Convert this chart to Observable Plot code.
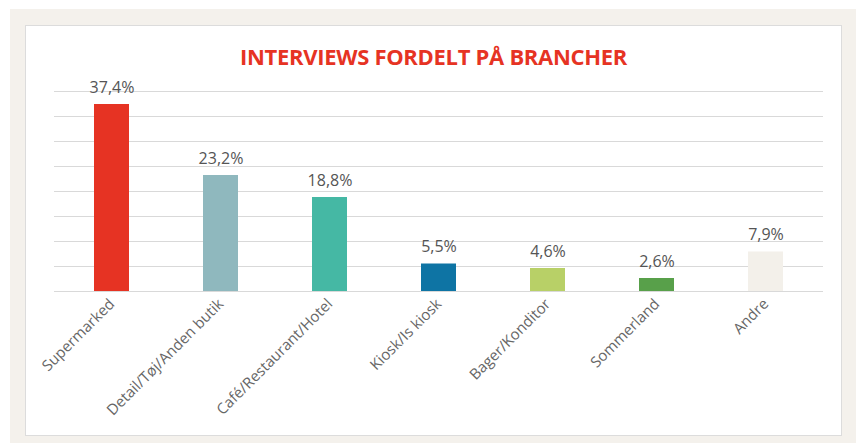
<!DOCTYPE html>
<html>
<head>
<meta charset="utf-8">
<script src="https://cdn.jsdelivr.net/npm/d3@7"></script>
<script src="https://cdn.jsdelivr.net/npm/@observablehq/plot@0.6"></script>
<style>
  html, body { margin: 0; padding: 0; background: #ffffff; width: 860px; height: 443px; overflow: hidden; }
  #outer { position: absolute; left: 10px; top: 9px; width: 846px; height: 434px; background: #f4f1ec; }
  #panel { position: absolute; left: 25px; top: 25px; width: 815px; height: 409px; background: #ffffff; border: 1.5px solid #dcdcdc; }
  #title { position: absolute; left: 25px; width: 817px; top: 41px; text-align: center; font-family: "Open Sans", sans-serif; font-weight: 700; font-size: 22px; color: #e63323; letter-spacing: -0.3px; }
  #chart { position: absolute; left: 0; top: 0; }
</style>
</head>
<body>
<div id="outer"></div>
<div id="panel"></div>
<div id="title">INTERVIEWS FORDELT PÅ BRANCHER</div>
<div id="chart"></div>
<script>
const categories = ["Supermarked", "Detail/Tøj/Anden butik", "Café/Restaurant/Hotel", "Kiosk/Is kiosk", "Bager/Konditor", "Sommerland", "Andre"];
const values = [37.4, 23.2, 18.8, 5.5, 4.6, 2.6, 7.9];
const colors = ["#e63323", "#8fb8be", "#45b8a4", "#0e74a4", "#b8d067", "#58a04a", "#f3f0ea"];
const gridTicks = [0, 5, 10, 15, 20, 25, 30, 35, 40];

const data = categories.map((c, i) => ({category: c, value: values[i], color: colors[i]}));
const fmt = v => v.toFixed(1).replace(".", ",") + "%";

const chart = Plot.plot({
  width: 860,
  height: 443,
  marginLeft: 54,
  marginRight: 37,
  marginTop: 91,
  marginBottom: 152,
  style: { background: "transparent", fontFamily: "Open Sans, sans-serif" },
  x: { domain: categories, paddingInner: 0.68, paddingOuter: 0.34, label: null },
  y: { domain: [0, 40], axis: null },
  marks: [
    Plot.ruleY(gridTicks, { stroke: "#d9d9d9", strokeWidth: 1.2 }),
    Plot.barY(data, { x: "category", y: "value", fill: "color" }),
    Plot.text(data, { x: "category", y: "value", text: d => fmt(d.value), dy: -12, lineAnchor: "bottom", fontSize: 16, fill: "#555" }),
    Plot.axisX({ tickSize: 0, tickPadding: 10, tickRotate: -45, fontSize: 15, color: "#666", label: null })
  ]
});
document.getElementById("chart").appendChild(chart);
</script>
</body>
</html>
